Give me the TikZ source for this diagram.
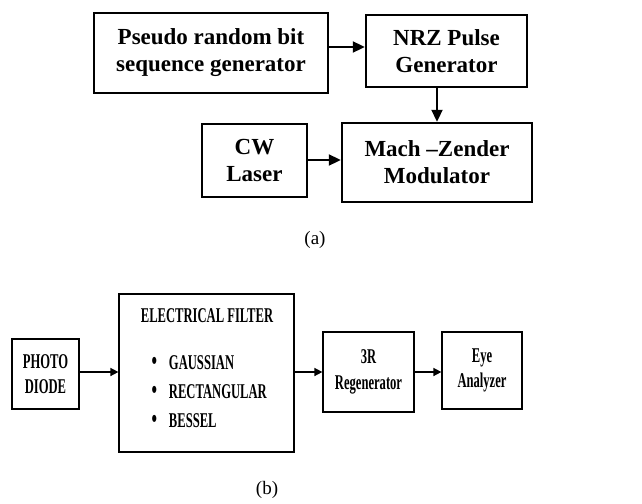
\documentclass[tikz,border=0pt]{standalone}
\usepackage{fontspec}
\setmainfont{Liberation Serif}
\newfontfamily\narrowbf[FakeStretch=0.6]{Liberation Serif}
\usetikzlibrary{arrows.meta}
\begin{document}
\begin{tikzpicture}[x=1pt,y=-1pt,
  topbox/.style={draw, line width=2.4pt, inner sep=0pt, align=center,
    font=\fontsize{23}{27}\selectfont\bfseries},
  botbox/.style={draw, line width=1.2pt, inner sep=0pt, align=center,
    font=\narrowbf\fontsize{21}{25.5}\selectfont\bfseries},
  toparrow/.style={line width=2pt, -{Triangle[length=12pt,width=11pt]}},
  botarrow/.style={line width=1.5pt, -{Triangle[length=8pt,width=8pt]}},
  caption/.style={font=\fontsize{19}{22}\selectfont}
]
\useasboundingbox (0,0) rectangle (642,503);
% (a)
\node[topbox, minimum width=234pt, minimum height=80pt] (pr) at (211,53) {Pseudo random bit\\sequence generator};
\node[topbox, minimum width=161pt, minimum height=72pt] (nrz) at (446.5,51) {NRZ Pulse\\Generator};
\node[topbox, minimum width=105pt, minimum height=73pt] (cw) at (254.5,160.5) {CW\\Laser};
\node[topbox, minimum width=190pt, minimum height=79pt] (mz) at (437,162.5) {Mach --Zender\\Modulator};
\coordinate (ya) at (0,47);
\draw[toparrow] (pr.east |- ya) -- (nrz.west |- ya);
\draw[toparrow] (nrz.south -| mz.north) -- (mz.north);
\coordinate (yb) at (0,160);
\draw[toparrow] (cw.east |- yb) -- (mz.west |- yb);
\node[caption] (capa) at (315,240) {(a)};
% (b)
\node[botbox, minimum width=67pt, minimum height=70pt] (pd) at (45.5,374) {PHOTO\\DIODE};
\node[botbox, minimum width=175pt, minimum height=158pt] (ef) at (206.5,373) {};
\node[font=\narrowbf\fontsize{21}{24}\selectfont\bfseries] (eft) at (207,316) {ELECTRICAL FILTER};
\node[font=\narrowbf\fontsize{21}{29}\selectfont\bfseries, align=left, anchor=west] (efl) at (148,392)
  {{\fontsize{26}{29}\selectfont\textbullet}\hspace{12pt}GAUSSIAN\\{\fontsize{26}{29}\selectfont\textbullet}\hspace{12pt}RECTANGULAR\\{\fontsize{26}{29}\selectfont\textbullet}\hspace{12pt}BESSEL};
\node[botbox, minimum width=91pt, minimum height=80pt] (rg) at (368.5,372) {3R\\Regenerator};
\node[botbox, minimum width=80pt, minimum height=77pt] (eye) at (482,370.5) {Eye\\Analyzer};
\coordinate (yc) at (0,372);
\draw[botarrow] (pd.east |- yc) -- (ef.west |- yc);
\draw[botarrow] (ef.east |- yc) -- (rg.west |- yc);
\draw[botarrow] (rg.east |- yc) -- (eye.west |- yc);
\node[caption] (capb) at (267,490) {(b)};
\end{tikzpicture}
\end{document}
